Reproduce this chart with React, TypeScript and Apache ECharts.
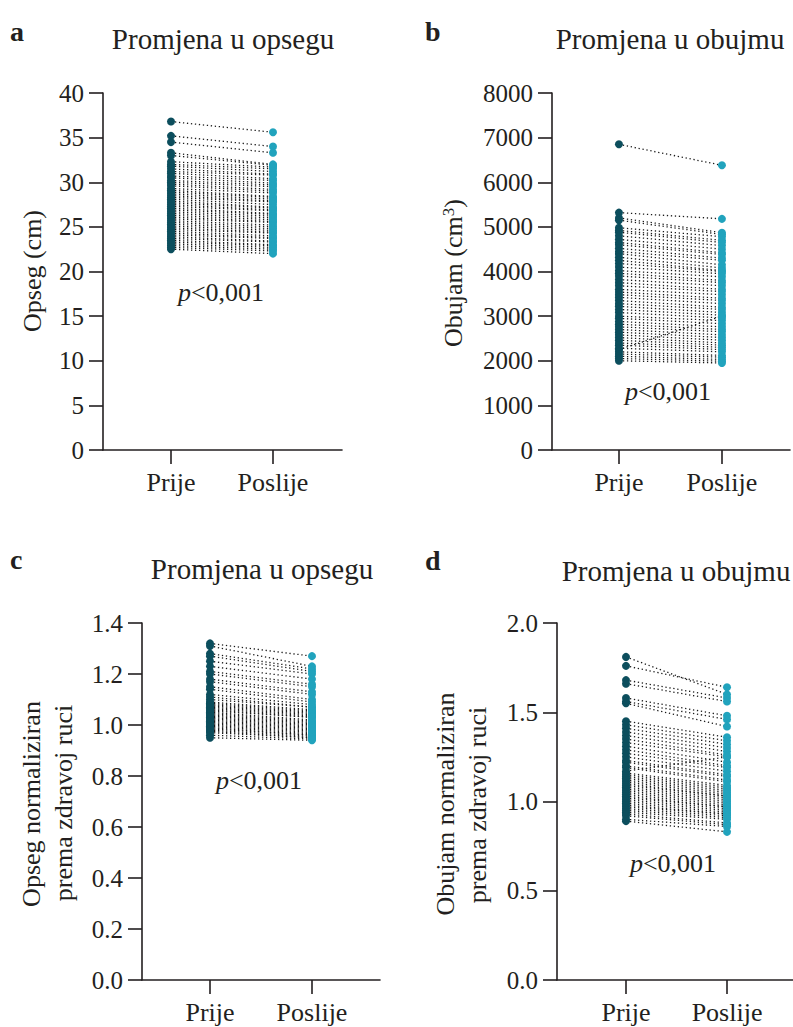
import React, { useEffect, useRef } from 'react';
import * as echarts from 'echarts';

const groups = ['Prije', 'Poslije'];

// Panel a: Opseg (cm)
const opsegPrije = [36.8, 35.2, 34.5, 33.3, 33.0, 32.3, 32.0, 31.8, 31.5, 31.2, 31.0, 30.7, 30.5, 30.2, 30.0, 29.8, 29.6, 29.3, 29.1, 28.9, 28.7, 28.5, 28.3, 28.1, 27.9, 27.7, 27.5, 27.3, 27.1, 26.9, 26.7, 26.5, 26.3, 26.1, 25.9, 25.7, 25.5, 25.3, 25.1, 24.9, 24.7, 24.5, 24.3, 24.1, 23.9, 23.7, 23.5, 23.3, 23.1, 22.9, 22.7, 22.5];
const opsegPoslije = [35.6, 34.0, 33.3, 32.0, 31.9, 31.7, 31.5, 31.2, 30.9, 30.8, 30.4, 30.2, 29.9, 29.7, 29.5, 29.2, 29.0, 28.8, 28.4, 28.3, 28.1, 27.9, 27.8, 27.5, 27.2, 27.1, 26.9, 26.8, 26.5, 26.4, 26.2, 26.0, 25.8, 25.6, 25.5, 25.2, 25.0, 24.8, 24.6, 24.4, 24.3, 24.0, 23.8, 23.7, 23.4, 23.3, 23.0, 22.9, 22.7, 22.5, 22.3, 22.0];

// Panel b: Obujam (cm3)
const obujamPrije = [6850, 5320, 5200, 5150, 4980, 4920, 4880, 4800, 4720, 4650, 4600, 4520, 4450, 4400, 4320, 4250, 4180, 4100, 4020, 3960, 3900, 3820, 3750, 3680, 3600, 3540, 3480, 3420, 3350, 3280, 3220, 3150, 3080, 3000, 2950, 2880, 2820, 2760, 2700, 2640, 2580, 2520, 2460, 2400, 2350, 2280, 2250, 2200, 2150, 2100, 2050, 2000];
const obujamPoslije = [6380, 5180, 4870, 4830, 4780, 4700, 4650, 4580, 4500, 4420, 4380, 4300, 4250, 4150, 4080, 4020, 4000, 3950, 3880, 3800, 3750, 3680, 3600, 3550, 3480, 3400, 3350, 3280, 3200, 3150, 3080, 3020, 2960, 2900, 2830, 2760, 2700, 2650, 2580, 2520, 2460, 2400, 2350, 2300, 2250, 2200, 3000, 2120, 2080, 2030, 1990, 1950];

// Panel c: Opseg normaliziran
const opsegNormPrije = [1.32, 1.31, 1.28, 1.27, 1.25, 1.23, 1.21, 1.20, 1.18, 1.17, 1.15, 1.14, 1.12, 1.11, 1.10, 1.09, 1.085, 1.08, 1.075, 1.07, 1.065, 1.06, 1.055, 1.05, 1.045, 1.04, 1.035, 1.03, 1.025, 1.02, 1.015, 1.01, 1.005, 1.00, 0.995, 0.99, 0.985, 0.98, 0.975, 0.97, 0.96, 0.95];
const opsegNormPoslije = [1.27, 1.23, 1.22, 1.21, 1.20, 1.18, 1.16, 1.15, 1.13, 1.12, 1.10, 1.09, 1.08, 1.07, 1.07, 1.06, 1.055, 1.05, 1.045, 1.04, 1.035, 1.03, 1.03, 1.02, 1.015, 1.01, 1.005, 1.00, 0.995, 0.99, 0.985, 0.98, 0.975, 0.97, 0.965, 0.96, 0.96, 0.955, 0.95, 0.95, 0.945, 0.94];

// Panel d: Obujam normaliziran
const obujamNormPrije = [1.81, 1.76, 1.68, 1.66, 1.58, 1.56, 1.55, 1.45, 1.43, 1.41, 1.39, 1.37, 1.35, 1.33, 1.31, 1.29, 1.27, 1.25, 1.23, 1.22, 1.20, 1.19, 1.17, 1.16, 1.15, 1.14, 1.13, 1.12, 1.11, 1.10, 1.09, 1.08, 1.07, 1.06, 1.05, 1.04, 1.03, 1.02, 1.01, 1.00, 0.99, 0.98, 0.97, 0.96, 0.95, 0.94, 0.93, 0.92, 0.90, 0.89];
const obujamNormPoslije = [1.60, 1.64, 1.58, 1.56, 1.48, 1.46, 1.42, 1.36, 1.34, 1.32, 1.30, 1.28, 1.26, 1.25, 1.22, 1.20, 1.19, 1.17, 1.15, 1.14, 1.12, 1.11, 1.25, 1.09, 1.08, 1.07, 1.06, 1.05, 1.04, 1.03, 1.03, 1.02, 1.01, 1.00, 0.99, 0.98, 0.97, 0.97, 0.96, 0.95, 0.94, 0.93, 0.93, 0.92, 0.91, 0.90, 0.88, 0.87, 0.86, 0.83];

const FONT = "'Liberation Serif', 'Times New Roman', serif";
const INK = '#231f20';
const C_PRE = '#0c4e5d';
const C_POST = '#21a3bd';

const panels = [
  { pre: opsegPrije, post: opsegPoslije, grid: { left: 103, top: 93, width: 239, height: 357 }, xMin: -0.6667, xMax: 1.6765, yMax: 40, yInt: 5, dec: 0 },
  { pre: obujamPrije, post: obujamPoslije, grid: { left: 552, top: 93, width: 238, height: 357 }, xMin: -0.65, xMax: 1.661, yMax: 8000, yInt: 1000, dec: 0 },
  { pre: opsegNormPrije, post: opsegNormPoslije, grid: { left: 142, top: 623, width: 238, height: 357 }, xMin: -0.6667, xMax: 1.6667, yMax: 1.4, yInt: 0.2, dec: 1 },
  { pre: obujamNormPrije, post: obujamNormPoslije, grid: { left: 557, top: 623, width: 236, height: 357 }, xMin: -0.683, xMax: 1.653, yMax: 2.0, yInt: 0.5, dec: 1 },
];

function txt(text: string, x: number, y: number, size: number, extra: any = {}) {
  return {
    type: 'text',
    x,
    y,
    rotation: extra.rotation || 0,
    silent: true,
    style: {
      text,
      fill: INK,
      fontSize: size,
      fontFamily: FONT,
      fontWeight: extra.bold ? 'bold' : 'normal',
      align: extra.align || 'center',
      verticalAlign: 'middle',
      textAlign: extra.align || 'center',
      textVerticalAlign: 'middle',
      rich: extra.rich,
    },
  };
}

const pRich = { i: { fontStyle: 'italic', fontSize: 26, fontFamily: FONT, fill: INK } };

export default function App() {
  const ref = useRef<HTMLDivElement>(null);
  useEffect(() => {
    const chart = echarts.init(ref.current!, null, { renderer: 'svg' });
    const grid: any[] = [];
    const xAxis: any[] = [];
    const yAxis: any[] = [];
    const series: any[] = [];
    panels.forEach((p, i) => {
      grid.push({ ...p.grid, containLabel: false });
      xAxis.push({
        type: 'value',
        gridIndex: i,
        min: p.xMin,
        max: p.xMax,
        splitLine: { show: false },
        axisLine: { show: true, onZero: false, lineStyle: { color: INK, width: 1.6 } },
        axisTick: { show: true, customValues: [0, 1], length: 14, lineStyle: { color: INK, width: 1.6 } },
        axisLabel: {
          show: true,
          customValues: [0, 1],
          formatter: (v: number) => groups[Math.round(v)] || '',
          margin: 19,
          fontSize: 26,
          fontFamily: FONT,
          color: INK,
        },
      });
      yAxis.push({
        type: 'value',
        gridIndex: i,
        min: 0,
        max: p.yMax,
        interval: p.yInt,
        splitLine: { show: false },
        axisLine: { show: true, onZero: false, lineStyle: { color: INK, width: 1.6 } },
        axisTick: { show: true, length: 14, lineStyle: { color: INK, width: 1.6 } },
        axisLabel: {
          margin: 19,
          fontSize: 25,
          fontFamily: FONT,
          color: INK,
          formatter: (v: number) => v.toFixed(p.dec),
        },
      });
      series.push({
        type: 'lines',
        coordinateSystem: 'cartesian2d',
        xAxisIndex: i,
        yAxisIndex: i,
        silent: true,
        z: 1,
        data: p.pre.map((v, k) => ({ coords: [[0, v], [1, p.post[k]]] })),
        lineStyle: { color: '#1a1a1a', width: 1.3, type: [1.3, 2.7], opacity: 1, curveness: 0 },
      });
      series.push({
        type: 'scatter',
        name: groups[0],
        xAxisIndex: i,
        yAxisIndex: i,
        z: 3,
        symbolSize: 8,
        data: p.pre.map((v) => [0, v]),
        itemStyle: { color: C_PRE, opacity: 1 },
      });
      series.push({
        type: 'scatter',
        name: groups[1],
        xAxisIndex: i,
        yAxisIndex: i,
        z: 3,
        symbolSize: 8,
        data: p.post.map((v) => [1, v]),
        itemStyle: { color: C_POST, opacity: 1 },
      });
    });

    const graphic: any[] = [
      txt('a', 10, 31, 28, { bold: true, align: 'left' }),
      txt('b', 425, 31, 28, { bold: true, align: 'left' }),
      txt('c', 10, 559, 28, { bold: true, align: 'left' }),
      txt('d', 425, 560, 28, { bold: true, align: 'left' }),
      txt('Promjena u opsegu', 223, 39, 29),
      txt('Promjena u obujmu', 670, 39, 29),
      txt('Promjena u opsegu', 262, 569, 29),
      txt('Promjena u obujmu', 676, 571, 29),
      txt('{i|p}<0,001', 221, 292, 26, { rich: pRich }),
      txt('{i|p}<0,001', 668, 391, 26, { rich: pRich }),
      txt('{i|p}<0,001', 259, 780, 26, { rich: pRich }),
      txt('{i|p}<0,001', 673, 863, 26, { rich: pRich }),
      txt('Opseg (cm)', 32, 271, 26, { rotation: Math.PI / 2 }),
      txt('Obujam (cm{s|3})', 453, 273, 26, {
        rotation: Math.PI / 2,
        rich: { s: { fontSize: 17, fontFamily: FONT, fill: INK, verticalAlign: 'top', lineHeight: 26 } },
      }),
      txt('Opseg normaliziran', 31, 804, 26, { rotation: Math.PI / 2 }),
      txt('prema zdravoj ruci', 63, 803, 26, { rotation: Math.PI / 2 }),
      txt('Obujam normaliziran', 445, 804, 26, { rotation: Math.PI / 2 }),
      txt('prema zdravoj ruci', 477, 805, 26, { rotation: Math.PI / 2 }),
    ];

    chart.setOption({
      animation: false,
      backgroundColor: '#ffffff',
      grid,
      xAxis,
      yAxis,
      series,
      graphic,
    });
    return () => chart.dispose();
  }, []);
  return <div ref={ref} style={{ position: 'absolute', left: 0, top: 0, width: 793, height: 1027 }} />;
}
